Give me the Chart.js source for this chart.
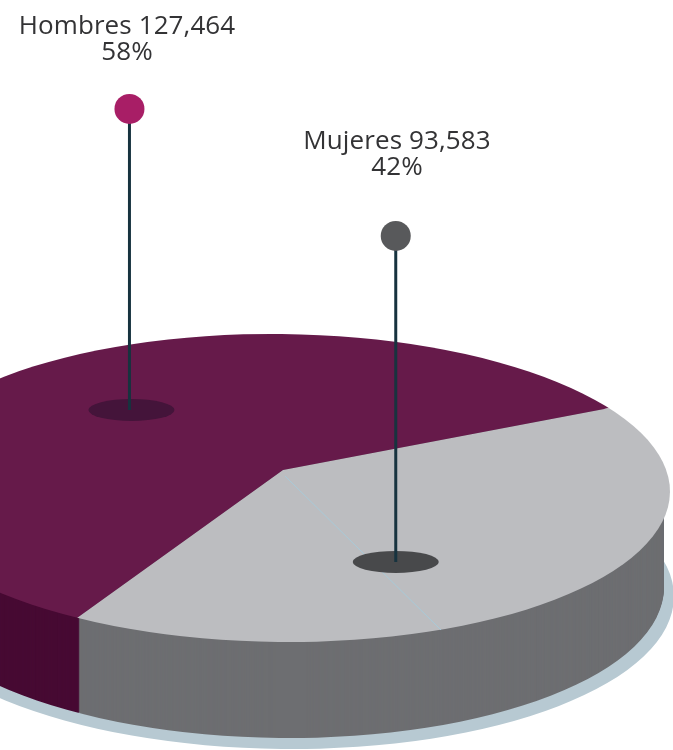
<!DOCTYPE html>
<html>
<head>
<meta charset="utf-8">
<script src="https://cdn.jsdelivr.net/npm/chart.js@4/dist/chart.umd.min.js"></script>
<style>
html, body { margin: 0; padding: 0; background: #fff; overflow: hidden; }
#wrap { position: relative; width: 673px; height: 750px; overflow: hidden; }
/* pie is wider than the page, its left part is cut off like in the original */
canvas { position: absolute; left: -117px; top: 0; filter: blur(0.6px); }
</style>
</head>
<body>
<div id="wrap"><canvas id="pieChart" width="800" height="940"></canvas></div>
<script>
const categories = ["Hombres", "Mujeres"];
const totals = [127464, 93583];
const percents = [58, 42];

const topColors = ["#661a4a", "#bcbdc0"];
const sideColors = ["#470a33", "#6d6e71"];
const headColors = ["#a81e66", "#58595b"];
const shadowColors = ["#44143a", "#48494b"];

// the disc outline is an ellipse, the slices are cut from a point above its centre
const tilt = 0.6 * Math.PI / 180;
const disc = { cx: 397, cy: 488, rx: 390, ry: 154 };
const base = { cx: 398, cy: 584, rx: 383, ry: 154 };
const sliceScaleX = 1.1;
const sliceScaleY = 0.935;

// where each pin stands, relative to the middle of its slice
const pins = [
    { turn: -38.6, reach: 0.38, height: 301, lean: -2, labelX: 244, labelY: 27 },
    { turn: -19.8, reach: 0.355, height: 326, lean: 0, labelX: 514, labelY: 142 }
];

function ellipsePath(ctx, e) {
    ctx.beginPath();
    ctx.ellipse(e.cx, e.cy, e.rx, e.ry, tilt, 0, Math.PI * 2);
}

function drawSide(chart, ctx) {
    const arcs = chart.getDatasetMeta(0).data;
    for (let offset = base.cy - disc.cy; offset > 0; offset--) {
        ctx.save();
        ellipsePath(ctx, { cx: base.cx, cy: disc.cy + offset, rx: base.rx, ry: base.ry });
        ctx.clip();
        arcs.forEach(function (arc, n) {
            ctx.save();
            ctx.translate(arc.x, arc.y + offset);
            ctx.scale(sliceScaleX, sliceScaleY);
            ctx.beginPath();
            ctx.moveTo(0, 0);
            ctx.arc(0, 0, arc.outerRadius, arc.startAngle, arc.endAngle);
            ctx.closePath();
            ctx.fillStyle = sideColors[n];
            ctx.fill();
            ctx.restore();
        });
        ctx.restore();
    }
}

const pie3d = {
    id: "pie3d",
    beforeDatasetsDraw(chart) {
        const ctx = chart.ctx;
        const arc = chart.getDatasetMeta(0).data[0];
        ctx.save();
        ctx.fillStyle = "#b7c9d2";
        ellipsePath(ctx, { cx: base.cx + 2, cy: base.cy + 9, rx: base.rx + 8, ry: base.ry + 2 });
        ctx.fill();
        ctx.restore();
        drawSide(chart, ctx);
        // the library draws the top slices inside this clip
        ctx.save();
        ellipsePath(ctx, disc);
        ctx.clip();
        ctx.translate(arc.x, arc.y);
        ctx.scale(sliceScaleX, sliceScaleY);
        ctx.translate(-arc.x, -arc.y);
    },
    afterDatasetsDraw(chart) {
        const ctx = chart.ctx;
        ctx.restore();
        const arcs = chart.getDatasetMeta(0).data;

        // faint crease in the grey slice
        ctx.strokeStyle = "rgba(165,203,220,0.9)";
        ctx.lineWidth = 1;
        ctx.beginPath();
        ctx.moveTo(arcs[0].x + 2, arcs[0].y + 6);
        ctx.lineTo(arcs[0].x + 158, arcs[0].y + 160);
        ctx.stroke();

        arcs.forEach(function (arc, n) {
            const pin = pins[n];
            const mid = (arc.startAngle + arc.endAngle) / 2 + pin.turn * Math.PI / 180;
            const x = arc.x + Math.cos(mid) * arc.outerRadius * pin.reach * sliceScaleX;
            const y = arc.y + Math.sin(mid) * arc.outerRadius * pin.reach * sliceScaleY;

            ctx.fillStyle = shadowColors[n];
            ctx.beginPath();
            ctx.ellipse(x, y, 43, 11, 0, 0, Math.PI * 2);
            ctx.fill();

            ctx.strokeStyle = "#17333f";
            ctx.lineWidth = 3;
            ctx.beginPath();
            ctx.moveTo(x + pin.lean, y);
            ctx.lineTo(x + pin.lean, y - pin.height);
            ctx.stroke();

            ctx.fillStyle = headColors[n];
            ctx.beginPath();
            ctx.arc(x + pin.lean, y - pin.height, 15, 0, Math.PI * 2);
            ctx.fill();

            ctx.fillStyle = "#333335";
            ctx.font = "26px 'Open Sans'";
            ctx.letterSpacing = "0.1px";
            ctx.textAlign = "center";
            ctx.textBaseline = "middle";
            ctx.fillText(categories[n] + " " + totals[n].toLocaleString("en-US"), pin.labelX, pin.labelY);
            ctx.fillText(percents[n] + "%", pin.labelX, pin.labelY + 26);
        });
    }
};

new Chart(document.getElementById("pieChart").getContext("2d"), {
    type: "pie",
    data: {
        labels: categories,
        datasets: [{
            data: totals,
            backgroundColor: topColors,
            borderWidth: 0
        }]
    },
    options: {
        responsive: false,
        animation: false,
        rotation: 229.8,
        plugins: {
            legend: { display: false },
            tooltip: { enabled: false }
        }
    },
    plugins: [pie3d]
});
</script>
</body>
</html>
